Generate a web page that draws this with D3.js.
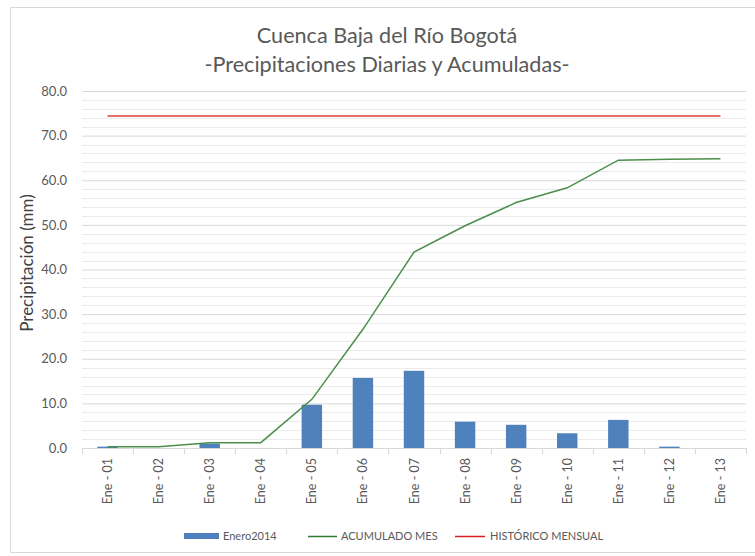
<!DOCTYPE html>
<html>
<head>
<meta charset="utf-8">
<script src="https://cdn.jsdelivr.net/npm/d3@7"></script>
<style>
	body { margin: 0; background: #fff; }
	text { font-family: Lato, 'Open Sans', sans-serif; }
</style>
</head>
<body>
<div id="draw"></div>
<script>
var dias = ['Ene - 01', 'Ene - 02', 'Ene - 03', 'Ene - 04', 'Ene - 05', 'Ene - 06', 'Ene - 07',
	'Ene - 08', 'Ene - 09', 'Ene - 10', 'Ene - 11', 'Ene - 12', 'Ene - 13'];
var diaria = [0.3, 0, 1.0, 0, 9.7, 15.7, 17.3, 5.9, 5.2, 3.3, 6.3, 0.3, 0];
var acumulado = [0.3, 0.3, 1.2, 1.2, 10.9, 26.6, 43.9, 49.8, 55.0, 58.3, 64.5, 64.7, 64.8];
var historico = [74.4, 74.4, 74.4, 74.4, 74.4, 74.4, 74.4, 74.4, 74.4, 74.4, 74.4, 74.4, 74.4];
var yTicks = [0, 10, 20, 30, 40, 50, 60, 70, 80];
var leyenda = ['Enero2014', 'ACUMULADO MES', 'HISTÓRICO MENSUAL'];

var W = 755, H = 556;
var margin = { top: 91, right: 9, bottom: 108, left: 82 },
	width = W - margin.left - margin.right,
	height = H - margin.top - margin.bottom;

var root = d3.select('#draw').append('svg').attr('width', W).attr('height', H);

// chart border
root.append('rect')
	.attr('x', 10.5).attr('y', 7.5)
	.attr('width', W).attr('height', H - 11)
	.style('fill', 'none').style('stroke', '#d9d9d9');

// title
var title = root.append('text')
	.style('text-anchor', 'middle')
	.style('font-size', '21.6px')
	.style('fill', '#595959');
title.append('tspan').attr('x', 387).attr('y', 43).text('Cuenca Baja del Río Bogotá');
title.append('tspan').attr('x', 387).attr('y', 72).text('-Precipitaciones Diarias y Acumuladas-');

var svg = root.append('g')
	.attr('transform', 'translate(' + margin.left + ',' + margin.top + ')');

var x = d3.scaleBand().domain(dias).range([0, width]).paddingInner(0.6).paddingOuter(0.3);
var xc = d3.scalePoint().domain(dias).range([0, width]).padding(0.5);
var y = d3.scaleLinear().domain([0, 80]).range([height, 0]);

// minor grid
svg.selectAll('.minor')
	.data(d3.range(2, 80, 2).filter(function (v) { return v % 10 !== 0; }))
	.enter()
	.append('line')
	.attr('x1', 0).attr('x2', width)
	.attr('y1', function (d) { return Math.round(y(d)) + 0.5; })
	.attr('y2', function (d) { return Math.round(y(d)) + 0.5; })
	.style('stroke', '#ebebeb');

// major grid + y labels
svg.append('g')
	.call(d3.axisLeft(y).tickValues(yTicks).tickSize(-width).tickFormat(d3.format('.1f')))
	.call(function (g) {
		g.select('.domain').remove();
		g.selectAll('.tick line').style('stroke', '#d9d9d9');
		g.selectAll('.tick text')
			.attr('x', -15)
			.style('font-size', '13px')
			.style('fill', '#595959')
			.style('font-family', 'Lato, sans-serif');
	});

// bars
svg.selectAll('.bar')
	.data(diaria)
	.enter()
	.append('rect')
	.attr('x', function (d, i) { return x(dias[i]); })
	.attr('width', x.bandwidth())
	.attr('y', function (d) { return y(d); })
	.attr('height', function (d) { return height - y(d); })
	.style('fill', '#4f81bd');

// x axis
var bounds = d3.range(dias.length + 1).map(function (i) { return i * width / dias.length; });
svg.append('line')
	.attr('x1', 0).attr('x2', width)
	.attr('y1', height + 0.5).attr('y2', height + 0.5)
	.style('stroke', '#d9d9d9');
svg.selectAll('.xtick')
	.data(bounds)
	.enter()
	.append('line')
	.attr('x1', function (d) { return Math.round(d) + 0.5; })
	.attr('x2', function (d) { return Math.round(d) + 0.5; })
	.attr('y1', height).attr('y2', height + 6)
	.style('stroke', '#d9d9d9');

svg.selectAll('.xlab')
	.data(dias)
	.enter()
	.append('text')
	.attr('transform', function (d) {
		return 'translate(' + (xc(d) + 4.5) + ',' + (height + 10) + ') rotate(-90)';
	})
	.style('text-anchor', 'end')
	.style('font-size', '12.5px')
	.style('fill', '#595959')
	.text(function (d) { return d; });

// lines
var line = d3.line()
	.x(function (d, i) { return xc(dias[i]); })
	.y(function (d) { return y(d); });

svg.append('path')
	.attr('d', line(historico))
	.style('fill', 'none')
	.style('stroke', '#e0403a')
	.style('stroke-width', 1.5);

svg.append('path')
	.attr('d', line(acumulado))
	.style('fill', 'none')
	.style('stroke', '#4a8f4a')
	.style('stroke-width', 1.5);

// y title
root.append('text')
	.attr('transform', 'translate(33,263) rotate(-90)')
	.style('text-anchor', 'middle')
	.style('font-size', '17px')
	.style('fill', '#404040')
	.text('Precipitación (mm)');

// legend
var lg = root.append('g').attr('transform', 'translate(0,536)');
lg.append('rect').attr('x', 184).attr('y', -3).attr('width', 35).attr('height', 6).style('fill', '#4f81bd');
lg.append('line').attr('x1', 308).attr('x2', 337).attr('y1', 0.5).attr('y2', 0.5)
	.style('stroke', '#2f7a2f').style('stroke-width', 1.5);
lg.append('line').attr('x1', 455).attr('x2', 485).attr('y1', 0.5).attr('y2', 0.5)
	.style('stroke', '#d82020').style('stroke-width', 1.5);
lg.selectAll('.lt')
	.data(leyenda)
	.enter()
	.append('text')
	.attr('x', function (d, i) { return [223, 341, 490][i]; })
	.attr('y', 4)
	.style('font-size', '11px')
	.style('fill', '#595959')
	.text(function (d) { return d; });
</script>
</body>
</html>
